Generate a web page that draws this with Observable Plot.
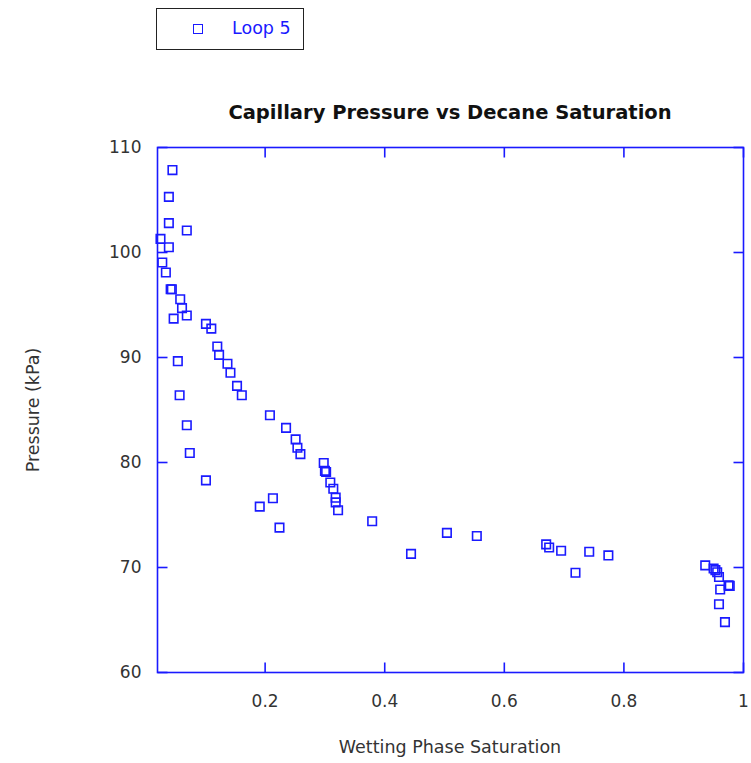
<!DOCTYPE html>
<html>
<head>
<meta charset="utf-8">
<script src="https://cdn.jsdelivr.net/npm/d3@7"></script>
<script src="https://cdn.jsdelivr.net/npm/@observablehq/plot@0.6"></script>
<style>
  html, body { margin: 0; padding: 0; background: #fff; }
  #wrap { position: relative; width: 751px; height: 763px; font-family: "DejaVu Sans", sans-serif; }
  #legend { position: absolute; left: 156px; top: 8px; width: 146px; height: 40px; border: 1.5px solid #222; box-sizing: content-box; }
  #legend .sw { position: absolute; left: 36px; top: 15px; width: 8px; height: 8px; border: 1.6px solid #1a1aff; }
  #legend .lb { position: absolute; left: 75px; top: 9px; font-size: 17.5px; color: #1a1aff; line-height: 20px; }
  #title { position: absolute; left: 0; width: 900px; top: 101px; text-align: center; font-weight: bold; font-size: 19.5px; color: #111; line-height: 24px; }
  #chart { position: absolute; left: 0; top: 130px; }
  #xlabel { position: absolute; left: 157px; width: 586px; top: 736px; text-align: center; font-size: 17.5px; line-height: 22px; color: #333; }
  #ylabel { position: absolute; left: 33px; top: 410px; width: 300px; margin-left: -150px; margin-top: -11px; text-align: center; font-size: 17.5px; line-height: 22px; color: #333; transform: rotate(-90deg); }
</style>
</head>
<body>
<div id="wrap">
  <div id="legend"><div class="sw"></div><div class="lb"></div></div>
  <div id="title"></div>
  <div id="chart"></div>
  <div id="xlabel"></div>
  <div id="ylabel"></div>
</div>
<script>
const seriesName = "Loop 5";
const titleText = "Capillary Pressure vs Decane Saturation";
const xLabel = "Wetting Phase Saturation";
const yLabel = "Pressure (kPa)";
const xDomain = [0.02, 1];
const yDomain = [60, 110];
const xTicks = [0.2, 0.4, 0.6, 0.8, 1];
const yTicks = [60, 70, 80, 90, 100, 110];

const saturation = [
  0.045, 0.039, 0.039, 0.069, 0.025, 0.039, 0.028, 0.034, 0.042, 0.044,
  0.058, 0.061, 0.069, 0.047, 0.101, 0.110, 0.120, 0.123, 0.137, 0.142,
  0.153, 0.161, 0.054, 0.057, 0.069, 0.074, 0.101, 0.208, 0.235, 0.251,
  0.254, 0.259, 0.191, 0.213, 0.224, 0.298, 0.300, 0.302, 0.309, 0.314,
  0.318, 0.318, 0.322, 0.379, 0.444, 0.504, 0.554, 0.670, 0.675, 0.695,
  0.742, 0.774, 0.719, 0.936, 0.950, 0.953, 0.956, 0.959, 0.975, 0.977,
  0.961, 0.959, 0.969
];
const pressure = [
  107.85, 105.3, 102.8, 102.1, 101.3, 100.5, 99.05, 98.1, 96.5, 96.5,
  95.55, 94.7, 94.0, 93.7, 93.2, 92.75, 91.05, 90.25, 89.4, 88.55,
  87.3, 86.4, 89.65, 86.4, 83.55, 80.9, 78.3, 84.5, 83.3, 82.2,
  81.4, 80.8, 75.8, 76.6, 73.8, 79.95, 79.2, 79.1, 78.1, 77.5,
  76.65, 76.2, 75.45, 74.4, 71.3, 73.3, 73.0, 72.2, 71.9, 71.6,
  71.5, 71.15, 69.5, 70.2, 69.9, 69.75, 69.55, 69.1, 68.3, 68.25,
  67.9, 66.5, 64.8
];

const data = saturation.map((s, i) => ({s, p: pressure[i]}));
const BLUE = "#1a1aff";

const W = 751, H = 633, MT = 17, MB = 91, ML = 157, MR = 8;
const TICK = 10;

// tick glyphs (inward-pointing strokes)
const tickUp = {draw(c) { c.moveTo(0, 0); c.lineTo(0, -TICK); }};
const tickDown = {draw(c) { c.moveTo(0, 0); c.lineTo(0, TICK); }};
const tickRight = {draw(c) { c.moveTo(0, 0); c.lineTo(TICK, 0); }};
const tickLeft = {draw(c) { c.moveTo(0, 0); c.lineTo(-TICK, 0); }};
const tickStyle = {r: 3, stroke: BLUE, strokeWidth: 1.6, fill: "none"};

const plot = Plot.plot({
  width: W,
  height: H,
  marginTop: MT,
  marginBottom: MB,
  marginLeft: ML,
  marginRight: MR,
  style: {fontFamily: "DejaVu Sans, sans-serif", fontSize: "17px", background: "#fff", color: "#333"},
  x: {domain: xDomain, ticks: xTicks, tickSize: 0, tickPadding: 22, tickFormat: d => String(d), label: null},
  y: {domain: yDomain, ticks: yTicks, tickSize: 0, tickPadding: 16, tickFormat: d => String(d), label: null},
  marks: [
    Plot.dot(data, {x: "s", y: "p", symbol: "square", r: 4.8, stroke: BLUE, strokeWidth: 1.6, fill: "none"}),
    Plot.frame({stroke: BLUE, strokeWidth: 1.6}),
    Plot.dot(xTicks, {x: d => d, y: () => yDomain[0], symbol: tickUp, ...tickStyle}),
    Plot.dot(xTicks, {x: d => d, y: () => yDomain[1], symbol: tickDown, ...tickStyle}),
    Plot.dot(yTicks, {y: d => d, x: () => xDomain[0], symbol: tickRight, ...tickStyle}),
    Plot.dot(yTicks, {y: d => d, x: () => xDomain[1], symbol: tickLeft, ...tickStyle})
  ]
});
document.getElementById("chart").appendChild(plot);
document.getElementById("title").textContent = titleText;
document.querySelector("#legend .lb").textContent = seriesName;
document.getElementById("xlabel").textContent = xLabel;
document.getElementById("ylabel").textContent = yLabel;
</script>
</body>
</html>
